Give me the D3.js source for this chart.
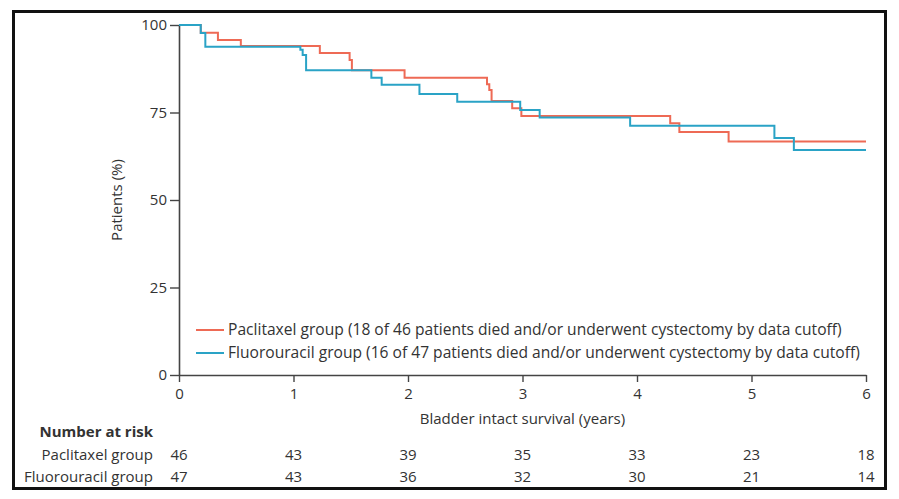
<!DOCTYPE html>
<html>
<head>
<meta charset="utf-8">
<script src="https://cdn.jsdelivr.net/npm/d3@7"></script>
<style>
  body { margin: 0; background: #fff; }
  text { font-family: "Open Sans", sans-serif; fill: #333; }
</style>
</head>
<body>
<div id="chart"></div>
<script>
// Data
const years = [0, 1, 2, 3, 4, 5, 6]
const yTicks = [0, 25, 50, 75, 100]

// step times (years) and survival (%) after each drop
const paclitaxelTimes = [0.19, 0.34, 0.54, 1.23, 1.49, 1.51, 1.97, 2.69, 2.71, 2.73, 2.91, 2.99, 4.29, 4.37, 4.80]
const paclitaxelSurv = [97.8, 95.7, 94.0, 92.0, 90.0, 87.1, 84.9, 83.1, 81.4, 78.3, 76.2, 74.0, 71.9, 69.4, 66.7]

const fluorouracilTimes = [0.19, 0.23, 1.06, 1.08, 1.11, 1.68, 1.77, 2.10, 2.43, 2.98, 3.15, 3.94, 5.20, 5.37]
const fluorouracilSurv = [97.7, 93.8, 92.9, 91.4, 87.1, 84.9, 82.9, 80.3, 78.1, 75.7, 73.6, 71.2, 67.7, 64.3]

const riskPaclitaxel = [46, 43, 39, 35, 33, 23, 18]
const riskFluorouracil = [47, 43, 36, 32, 30, 21, 14]

const legendLabels = [
  'Paclitaxel group (18 of 46 patients died and/or underwent cystectomy by data cutoff)',
  'Fluorouracil group (16 of 47 patients died and/or underwent cystectomy by data cutoff)'
]
const riskLabels = ['Paclitaxel group', 'Fluorouracil group']

function draw() {
  // Dimensions
  const dimensions = {
    width: 899,
    height: 499,
    left: 179,
    right: 866,
    top: 25,
    bottom: 375
  }

  const colors = ['#ee6a55', '#2aa3c6']

  const svg = d3.select('#chart')
    .append('svg')
    .attr('width', dimensions.width)
    .attr('height', dimensions.height)

  // outer frame
  svg.append('rect')
    .attr('x', 13.5)
    .attr('y', 11.5)
    .attr('width', 872)
    .attr('height', 477)
    .attr('fill', 'none')
    .attr('stroke', '#111')
    .attr('stroke-width', 3)

  // Scales
  const xScale = d3.scaleLinear()
    .domain([0, 6])
    .range([dimensions.left, dimensions.right])

  const yScale = d3.scaleLinear()
    .domain([0, 100])
    .range([dimensions.bottom, dimensions.top])

  // Axes
  const xAxis = d3.axisBottom(xScale)
    .tickValues(years)
    .tickFormat(d3.format('d'))
    .tickSize(7)
    .tickPadding(6)
    .tickSizeOuter(0)

  const yAxis = d3.axisLeft(yScale)
    .tickValues(yTicks)
    .tickSize(9)
    .tickPadding(3)
    .tickSizeOuter(0)

  const xAxisGroup = svg.append('g')
    .attr('transform', `translate(0, ${dimensions.bottom})`)
    .call(xAxis)

  const yAxisGroup = svg.append('g')
    .attr('transform', `translate(${dimensions.left}, 0)`)
    .call(yAxis)

  ;[xAxisGroup, yAxisGroup].forEach(g => {
    g.select('.domain').attr('stroke', '#444').attr('stroke-width', 1.6)
    g.selectAll('.tick line').attr('stroke', '#444').attr('stroke-width', 1.4)
    g.selectAll('.tick text')
      .style('font-family', '"Open Sans", sans-serif')
      .style('font-size', '15px')
      .attr('fill', '#444')
  })

  // Axis titles
  svg.append('text')
    .attr('x', (dimensions.left + dimensions.right) / 2)
    .attr('y', 424)
    .attr('text-anchor', 'middle')
    .style('font-size', '15px')
    .text('Bladder intact survival (years)')

  svg.append('text')
    .attr('transform', `translate(122, ${(dimensions.top + dimensions.bottom) / 2}) rotate(-90)`)
    .attr('text-anchor', 'middle')
    .style('font-size', '15px')
    .text('Patients (%)')

  // Curves
  const line = d3.line()
    .x(d => xScale(d[0]))
    .y(d => yScale(d[1]))
    .curve(d3.curveStepAfter)

  const series = [
    [paclitaxelTimes, paclitaxelSurv],
    [fluorouracilTimes, fluorouracilSurv]
  ].map(([t, s]) => {
    const pts = [[0, 100]]
    t.forEach((d, i) => pts.push([d, s[i]]))
    pts.push([6, s[s.length - 1]])
    return pts
  })

  svg.selectAll('path.km')
    .data(series)
    .join('path')
    .classed('km', true)
    .attr('d', line)
    .attr('fill', 'none')
    .attr('stroke', (d, i) => colors[i])
    .attr('stroke-width', 2)

  // Legend
  const legend = svg.append('g')
  legendLabels.forEach((label, i) => {
    const y = 330 + i * 23
    legend.append('line')
      .attr('x1', 196)
      .attr('x2', 224)
      .attr('y1', y)
      .attr('y2', y)
      .attr('stroke', colors[i])
      .attr('stroke-width', 2)
    legend.append('text')
      .attr('x', 228)
      .attr('y', y + 5)
      .style('font-size', '15.6px')
      .text(label)
  })

  // Number at risk table
  svg.append('text')
    .attr('x', 153)
    .attr('y', 437)
    .attr('text-anchor', 'end')
    .style('font-size', '15px')
    .style('font-weight', 'bold')
    .text('Number at risk')

  const riskRows = [riskPaclitaxel, riskFluorouracil]
  riskRows.forEach((row, r) => {
    const y = 460 + r * 22
    svg.append('text')
      .attr('x', 153)
      .attr('y', y)
      .attr('text-anchor', 'end')
      .style('font-size', '15px')
      .text(riskLabels[r])

    svg.append('g')
      .selectAll('text')
      .data(row)
      .join('text')
      .attr('x', (d, i) => xScale(years[i]))
      .attr('y', y)
      .attr('text-anchor', 'middle')
      .style('font-size', '15px')
      .text(d => d)
  })
}

draw()
</script>
</body>
</html>
